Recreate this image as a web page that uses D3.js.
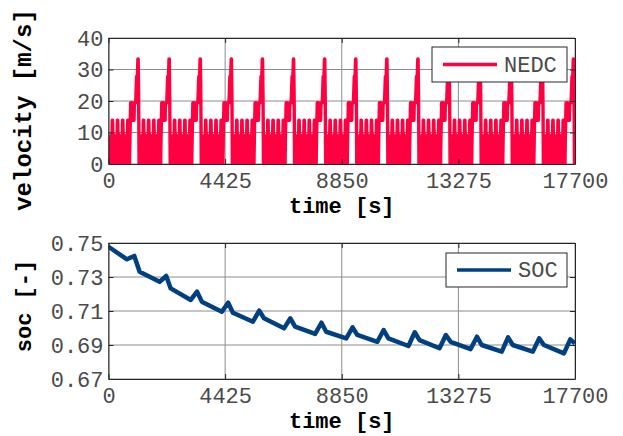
<!DOCTYPE html>
<html><head><meta charset="utf-8">
<script src="https://cdn.jsdelivr.net/npm/d3@7"></script>
<style>body{margin:0;background:#fff}svg{display:block}</style>
</head><body><svg id="c" width="623" height="436"></svg>
<script>
// ---------- data ----------
const timeTicks = [0, 4425, 8850, 13275, 17700];
const velocityTicks = [0, 10, 20, 30, 40];
const socTicks = [0.67, 0.69, 0.71, 0.73, 0.75];
const cycleCount = 15;          // repeated NEDC cycles
const cycleLength = 1180;       // s
const eceLength = 195;          // s, urban sub-cycle (x4)
// ECE-15 urban sub-cycle breakpoints (s, km/h)
const eceTime =     [0, 11, 15, 23, 28, 49, 54, 56, 61, 85, 96, 117, 122, 124, 133, 135, 143, 155, 163, 176, 188, 195];
const eceSpeedKmh = [0,  0, 15, 15,  0,  0, 15, 15, 32, 32,  0,   0,  15,  15,  35,  35,  50,  50,  35,  35,   0,   0];
// EUDC extra-urban breakpoints (s, km/h)
const eudcTime =     [0, 20, 25, 27, 36, 38, 46, 48, 61, 111, 119, 188, 201, 251, 286, 316, 336, 346, 362, 370, 380, 400];
const eudcSpeedKmh = [0,  0, 15, 15, 35, 35, 50, 50, 70,  70,  50,  50,  70,  70, 100, 100, 120, 120,  80,  50,   0,   0];
// battery state of charge
const socTime = [0, 700, 980, 1180, 1940, 2190, 2360, 3120, 3360, 3540, 4300, 4540, 4720,
  5480, 5720, 5900, 6660, 6900, 7080, 7840, 8080, 8260, 9020, 9260, 9440,
  10200, 10440, 10620, 11380, 11620, 11800, 12560, 12800, 12980, 13740, 13980, 14160,
  14920, 15160, 15340, 16100, 16340, 16520, 17280, 17520, 17700];
const socValue = [0.7478, 0.7404, 0.7424, 0.7331, 0.7272, 0.7306, 0.7233, 0.7165, 0.7214, 0.7155,
  0.7096, 0.7149, 0.7090, 0.7037, 0.7102, 0.7057, 0.6998, 0.7057, 0.7008, 0.6965, 0.7031, 0.6978,
  0.6939, 0.7004, 0.6959, 0.6919, 0.6988, 0.6939, 0.6894, 0.6975, 0.6929, 0.6881, 0.6959, 0.6919,
  0.6876, 0.6949, 0.6900, 0.6861, 0.6945, 0.6900, 0.6861, 0.6939, 0.6900, 0.6851, 0.6933, 0.6910];

// build velocity series from the repeated cycle
const velocity = [];
for (let c = 0; c < cycleCount; c++) {
  for (let e = 0; e < 4; e++) {
    eceTime.forEach((t, i) => velocity.push([c * cycleLength + e * eceLength + t, eceSpeedKmh[i] / 3.6]));
  }
  eudcTime.forEach((t, i) => velocity.push([c * cycleLength + 4 * eceLength + t, eudcSpeedKmh[i] / 3.6]));
}
const soc = socTime.map((t, i) => [t, socValue[i]]);

// ---------- drawing ----------
const svg = d3.select('#c');
const left = 108.5, right = 575;
const x = d3.scaleLinear().domain([0, 17700]).range([left, right]);
const FONT = "'Liberation Mono','Courier New',monospace";
const AX = '#262626';
const TXT = '#4a4a4a';

function panel(o) {
  const y = d3.scaleLinear().domain(o.domain).range([o.bottom, o.top]);
  const g = svg.append('g');
  // grid
  g.append('g').selectAll('line').data(timeTicks).join('line')
    .attr('x1', d => x(d)).attr('x2', d => x(d)).attr('y1', o.top).attr('y2', o.bottom)
    .attr('stroke', '#8c8c8c').attr('stroke-width', 1);
  g.append('g').selectAll('line').data(o.ticks).join('line')
    .attr('x1', left).attr('x2', right).attr('y1', d => y(d)).attr('y2', d => y(d))
    .attr('stroke', '#8c8c8c').attr('stroke-width', 1);
  // data
  const clipId = 'clip' + o.id;
  svg.append('clipPath').attr('id', clipId).append('rect')
    .attr('x', left).attr('y', o.top).attr('width', right - left).attr('height', o.bottom - o.top);
  g.append('path').datum(o.data)
    .attr('clip-path', `url(#${clipId})`)
    .attr('fill', 'none').attr('stroke', o.color).attr('stroke-width', o.lw)
    .attr('stroke-linejoin', 'round')
    .attr('d', d3.line().x(d => x(d[0])).y(d => y(d[1])));
  // axes
  g.append('g').attr('transform', `translate(0,${o.bottom})`)
    .call(d3.axisBottom(x).tickValues(timeTicks).tickFormat(d3.format('d')).tickSizeInner(-5).tickSizeOuter(0).tickPadding(8));
  g.append('g').attr('transform', `translate(0,${o.top})`)
    .call(d3.axisTop(x).tickValues(timeTicks).tickFormat('').tickSizeInner(-5).tickSizeOuter(0));
  g.append('g').attr('transform', `translate(${left},0)`)
    .call(d3.axisLeft(y).tickValues(o.ticks).tickFormat(o.fmt).tickSizeInner(-5).tickSizeOuter(0).tickPadding(5));
  g.append('g').attr('transform', `translate(${right},0)`)
    .call(d3.axisRight(y).tickValues(o.ticks).tickFormat('').tickSizeInner(-5).tickSizeOuter(0));
  g.selectAll('.domain').attr('stroke', AX);
  g.selectAll('.tick line').attr('stroke', AX);
  g.selectAll('.tick text').attr('font-family', FONT).attr('font-size', 22).attr('fill', TXT);
  // axis titles
  g.append('text').attr('x', (left + right) / 2).attr('y', o.xTitleY).attr('text-anchor', 'middle')
    .attr('font-family', FONT).attr('font-weight', 'bold').attr('font-size', 22).attr('fill', '#000')
    .text('time [s]');
  g.append('text').attr('transform', `translate(31,${o.yTitleC}) rotate(-90)`).attr('text-anchor', 'middle')
    .attr('font-family', FONT).attr('font-weight', 'bold').attr('font-size', o.yTitleSize).attr('fill', '#000')
    .text(o.ylabel);
  // legend
  const L = o.legend;
  g.append('rect').attr('x', L.x).attr('y', L.y).attr('width', L.w).attr('height', L.h)
    .attr('fill', '#fff').attr('stroke', AX).attr('stroke-width', 1);
  g.append('line').attr('x1', L.x + 11).attr('x2', L.x + 65).attr('y1', L.y + L.h / 2).attr('y2', L.y + L.h / 2)
    .attr('stroke', o.color).attr('stroke-width', 3.5);
  g.append('text').attr('x', L.x + 72).attr('y', L.y + L.h / 2 + 7)
    .attr('font-family', FONT).attr('font-size', 22).attr('fill', TXT).text(o.label);
}

panel({ id: 'v', top: 38, bottom: 164, domain: [0, 40], ticks: velocityTicks, fmt: d3.format('d'),
  data: velocity, color: 'rgb(255,0,64)', lw: 3.4, ylabel: 'velocity [m/s]', yTitleC: 110, yTitleSize: 24,
  xTitleY: 213, label: 'NEDC', legend: { x: 432, y: 47, w: 135, h: 35 } });
panel({ id: 's', top: 243, bottom: 379, domain: [0.67, 0.75], ticks: socTicks, fmt: d3.format('.2f'),
  data: soc, color: 'rgb(0,64,128)', lw: 4.5, ylabel: 'soc [-]', yTitleC: 306, yTitleSize: 22,
  xTitleY: 428, label: 'SOC', legend: { x: 446, y: 253, w: 121, h: 34 } });
</script></body></html>
